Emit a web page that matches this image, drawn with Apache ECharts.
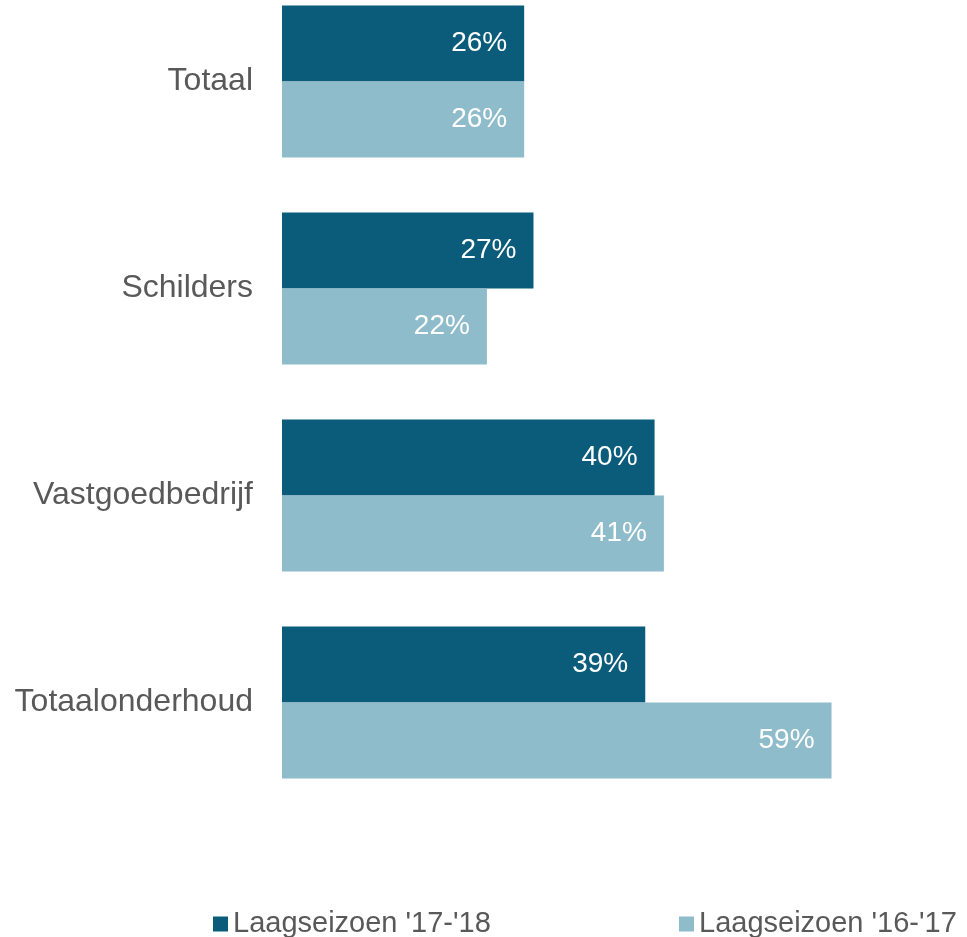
<!DOCTYPE html>
<html>
<head>
<meta charset="utf-8">
<script src="https://cdn.jsdelivr.net/npm/echarts@6/dist/echarts.min.js"></script>
<style>
  html, body { margin: 0; padding: 0; background: #fff; overflow: hidden; }
  /* shifted up so the first bar group can start near the top edge */
  #main { position: absolute; left: 0; top: -22px; width: 967px; height: 959px; }
</style>
</head>
<body>
<div id="main"></div>
<script>
var categories = ["Totaal", "Schilders", "Vastgoedbedrijf", "Totaalonderhoud"];
var seriesNames = ["Laagseizoen '17-'18", "Laagseizoen '16-'17"];
var season1718 = [26, 27, 40, 39];
var season1617 = [26, 22, 41, 59];

var myChart = echarts.init(document.getElementById("main"));

var fontFamily = "Liberation Sans, Arial, sans-serif";

var valueLabel = {
  show: true,
  position: "insideRight",
  distance: 17,
  color: "#ffffff",
  fontSize: 28,
  fontFamily: fontFamily,
  formatter: "{c}%",
};

var legendText = { fontSize: 29, color: "#595959", fontFamily: fontFamily, lineHeight: 34 };

option = {
  animation: false,
  backgroundColor: "#ffffff",
  grid: { left: 282, right: 33, top: 0, bottom: 131 },
  legend: [
    {
      data: [seriesNames[0]],
      left: 208,
      top: 924,
      itemWidth: 15,
      itemHeight: 15,
      icon: "rect",
      textStyle: legendText,
    },
    {
      data: [seriesNames[1]],
      left: 674,
      top: 924,
      itemWidth: 15,
      itemHeight: 15,
      icon: "rect",
      textStyle: legendText,
    },
  ],
  xAxis: {
    type: "value",
    min: 0,
    max: 70,
    show: false,
  },
  yAxis: {
    type: "category",
    data: categories,
    inverse: true,
    axisLine: { show: false },
    axisTick: { show: false },
    axisLabel: { fontSize: 32, color: "#595959", fontFamily: fontFamily, margin: 29 },
  },
  series: [
    {
      name: seriesNames[0],
      type: "bar",
      data: season1718,
      itemStyle: { color: "#0b5c7a" },
      barGap: "0%",
      barCategoryGap: "26.6%",
      label: valueLabel,
    },
    {
      name: seriesNames[1],
      type: "bar",
      data: season1617,
      itemStyle: { color: "#8fbccb" },
      barGap: "0%",
      barCategoryGap: "26.6%",
      label: valueLabel,
    },
  ],
};

myChart.setOption(option);
</script>
</body>
</html>
